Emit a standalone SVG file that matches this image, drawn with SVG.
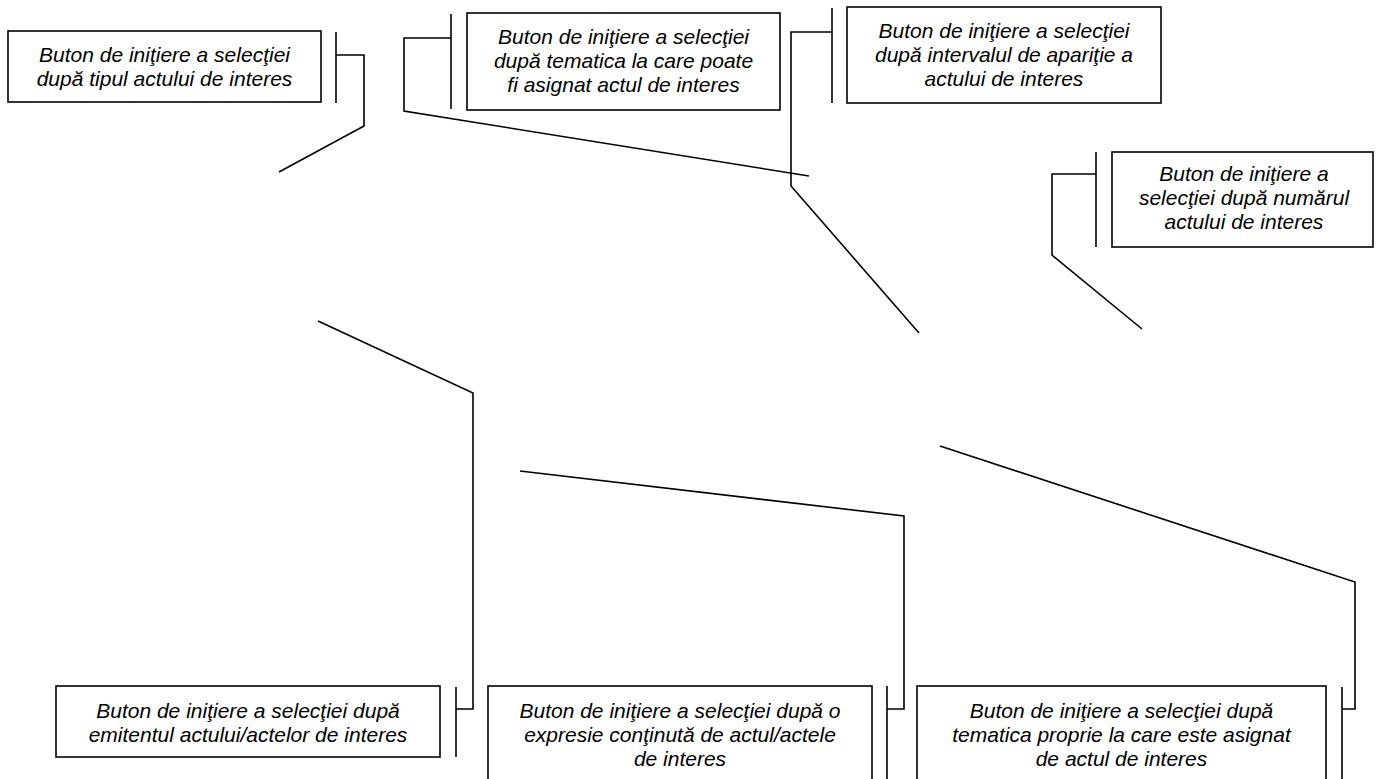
<svg xmlns="http://www.w3.org/2000/svg" width="1376" height="779" viewBox="0 0 1376 779">
<style>
.box{fill:#fff;stroke:#000;stroke-width:1.6}
.bar{fill:none;stroke:#000;stroke-width:1.6}
.ld{fill:none;stroke:#000;stroke-width:1.6;stroke-linejoin:miter}
.t{font-family:"Liberation Sans",Arial,sans-serif;font-style:italic;font-size:21px;fill:#000;text-anchor:middle}
</style>
<rect width="1376" height="779" fill="#fff"/>
<g id="connectors">
<polyline class="ld" points="336,55 364,55 364,126 279,172"/>
<polyline class="ld" points="451,38 404,38 404,111 809,176"/>
<polyline class="ld" points="832,32 791,32 791,186 919,333"/>
<polyline class="ld" points="1096,174 1052,174 1052,255 1142,329"/>
<polyline class="ld" points="456,709 473,709 473,393 318,321"/>
<polyline class="ld" points="887,709 904,709 904,516 520,471"/>
<polyline class="ld" points="1342,709 1355,709 1355,582 940,446"/>
</g>
<g id="n1">
<rect class="box" x="8" y="31" width="313" height="71"/>
<line class="bar" x1="336" y1="32" x2="336" y2="103"/>
<text class="t" x="164.5"><tspan x="164.5" y="62">Buton de iniţiere a selecţiei</tspan><tspan x="164.5" y="86">după tipul actului de interes</tspan></text>
</g>
<g id="n2">
<rect class="box" x="467" y="13" width="313" height="97"/>
<line class="bar" x1="451" y1="14" x2="451" y2="109"/>
<text class="t"><tspan x="623.5" y="44">Buton de iniţiere a selecţiei</tspan><tspan x="623.5" y="68">după tematica la care poate</tspan><tspan x="623.5" y="92">fi asignat actul de interes</tspan></text>
</g>
<g id="n3">
<rect class="box" x="847" y="7" width="314" height="96"/>
<line class="bar" x1="832" y1="8" x2="832" y2="103"/>
<text class="t"><tspan x="1004" y="38">Buton de iniţiere a selecţiei</tspan><tspan x="1004" y="62">după intervalul de apariţie a</tspan><tspan x="1004" y="86">actului de interes</tspan></text>
</g>
<g id="n4">
<rect class="box" x="1112" y="152" width="261" height="95"/>
<line class="bar" x1="1096" y1="152" x2="1096" y2="247"/>
<text class="t"><tspan x="1244" y="181">Buton de iniţiere a</tspan><tspan x="1244" y="205">selecţiei după numărul</tspan><tspan x="1244" y="229">actului de interes</tspan></text>
</g>
<g id="n5">
<rect class="box" x="56" y="686" width="384" height="71"/>
<line class="bar" x1="456" y1="687" x2="456" y2="757"/>
<text class="t"><tspan x="248" y="718">Buton de iniţiere a selecţiei după</tspan><tspan x="248" y="742">emitentul actului/actelor de interes</tspan></text>
</g>
<g id="n6">
<rect class="box" x="488" y="686" width="384" height="110"/>
<line class="bar" x1="887" y1="686" x2="887" y2="796"/>
<text class="t"><tspan x="680" y="718">Buton de iniţiere a selecţiei după o</tspan><tspan x="680" y="742">expresie conţinută de actul/actele</tspan><tspan x="680" y="766">de interes</tspan></text>
</g>
<g id="n7">
<rect class="box" x="917" y="686" width="409" height="110"/>
<line class="bar" x1="1342" y1="687" x2="1342" y2="796"/>
<text class="t"><tspan x="1121.5" y="718">Buton de iniţiere a selecţiei după</tspan><tspan x="1121.5" y="742">tematica proprie la care este asignat</tspan><tspan x="1121.5" y="766">de actul de interes</tspan></text>
</g>
</svg>
